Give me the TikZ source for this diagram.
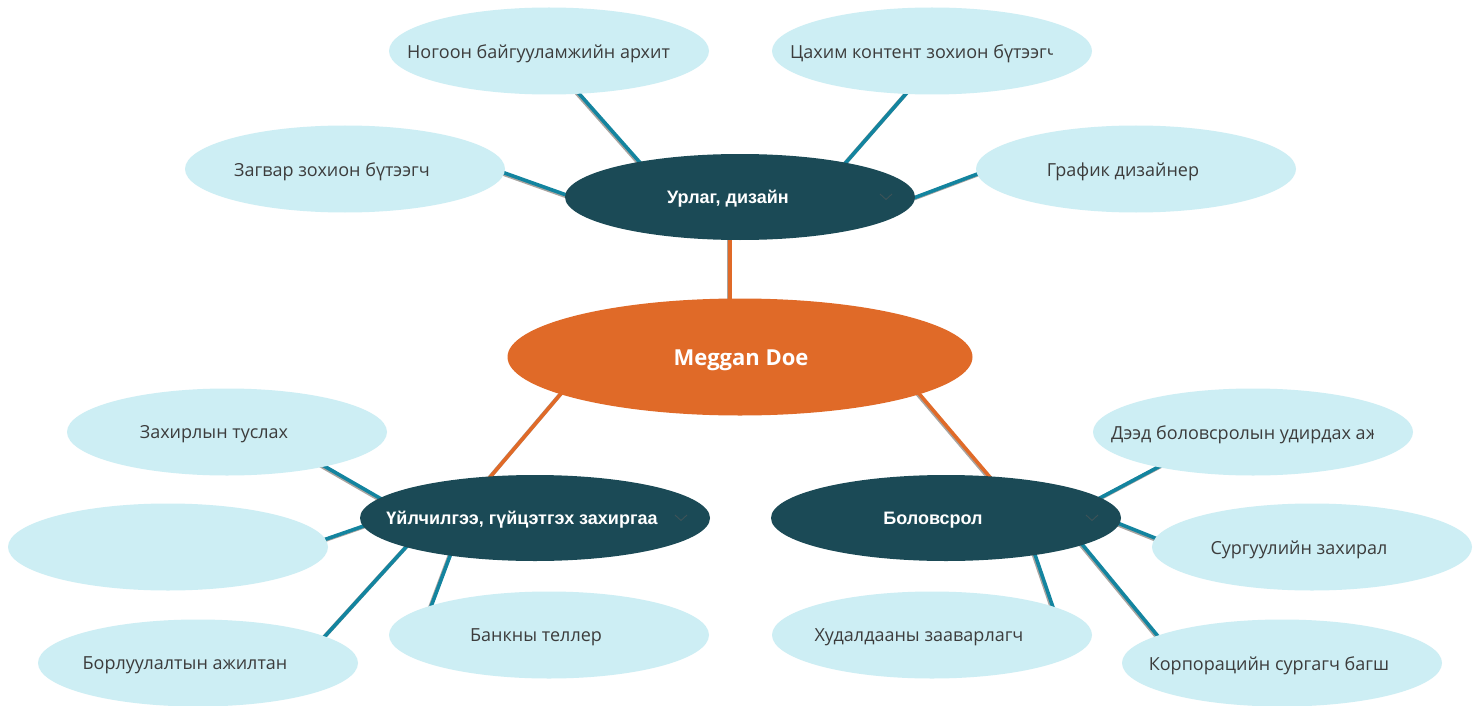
\documentclass[tikz,border=0pt]{standalone}
\usepackage{fontspec}
\setmainfont{Open Sans}
\newfontfamily\hubfont{Liberation Sans}
\usetikzlibrary{shapes.geometric,calc}
\definecolor{leafbg}{HTML}{CDEEF4}
\definecolor{hubbg}{HTML}{1B4A56}
\definecolor{rootbg}{HTML}{E06A28}
\definecolor{linkteal}{HTML}{13849F}
\definecolor{leaftxt}{HTML}{3C3C3C}
\definecolor{shadowgray}{HTML}{A8A4A0}
\definecolor{chevgray}{HTML}{3E5358}
\pgfdeclarelayer{bg}
\pgfsetlayers{bg,main}
\tikzset{
  leafnode/.style={ellipse, fill=leafbg, minimum width=320pt, minimum height=87pt, inner sep=0pt},
  hubnode/.style={ellipse, fill=hubbg, minimum width=350pt, minimum height=86pt, inner sep=0pt},
  rootnode/.style={ellipse, fill=rootbg, minimum width=465pt, minimum height=117pt, inner sep=0pt},
  leaftext/.style={inner sep=0pt, text=leaftxt, font=\fontsize{18}{20}\selectfont, yshift=-2.5pt},
  hubtext/.style={inner sep=0pt, text=white, font=\hubfont\bfseries\fontsize{18}{20}\selectfont, yshift=-2pt},
  roottext/.style={inner sep=0pt, text=white, font=\bfseries\fontsize{22}{24}\selectfont, yshift=-3pt},
  tline/.style={draw=linkteal, line width=3.6pt},
  oline/.style={draw=rootbg, line width=3.6pt},
  sline/.style={draw=shadowgray, line width=4pt},
  chevline/.style={draw=chevgray, line width=0.9pt},
}
\newcommand\conn[5]{%
  \draw[sline] ($(#2)+#3+(-1,1)$) -- ($(#4)+#5+(-1,1)$);
  \draw[#1] ($(#2)+#3$) -- ($(#4)+#5$);}
\begin{document}
\begin{tikzpicture}[x=1pt,y=-1pt]
\useasboundingbox (0,0) rectangle (1480,706);
\begin{pgfonlayer}{bg}
\fill[white] (0,0) rectangle (1480,706);
\end{pgfonlayer}

% root and hubs
\node[rootnode] (root) at (740,357) {};
\node[roottext] (roottx) at (741,357) {Meggan Doe};
\node[hubnode] (art) at (740,197) {};
\node[hubtext] (arttx) at (728,197) {Урлаг, дизайн};
\node[hubnode] (serv) at (535,518) {};
\node[hubtext] (servtx) at (522,518) {Үйлчилгээ, гүйцэтгэх захиргаа};
\node[hubnode] (edu) at (946,518) {};
\node[hubtext] (edutx) at (933,518) {Боловсрол};

% chevrons
\foreach \h in {art,serv,edu}{
  \draw[chevline] ($(\h)+(140,-3)$) -- ($(\h)+(146,2.5)$) -- ($(\h)+(152,-3)$);
}

% leaves
\node[leafnode] (green) at (549,51) {};
\node[leafnode] (digital) at (932,51) {};
\node[leafnode] (model) at (345,169) {};
\node[leafnode] (graphic) at (1136,169) {};
\node[leafnode] (assist) at (227,432) {};
\node[leafnode] (blank) at (168,547) {};
\node[leafnode] (sales) at (198,663) {};
\node[leafnode] (teller) at (549,635) {};
\node[leafnode] (higher) at (1253,432) {};
\node[leafnode] (school) at (1312,547) {};
\node[leafnode] (trade) at (932,635) {};
\node[leafnode] (corp) at (1282,663) {};

% leaf texts (clipped ones)
\begin{scope}
  \clip (407,30) rectangle (669,76);
  \node[leaftext, anchor=west] (greentx) at (407,51) {Ногоон байгууламжийн архитектор};
\end{scope}
\begin{scope}
  \clip (790,30) rectangle (1052,76);
  \node[leaftext, anchor=west] (digitaltx) at (790,51) {Цахим контент зохион бүтээгч};
\end{scope}
\begin{scope}
  \clip (1111,411) rectangle (1373,457);
  \node[leaftext, anchor=west] (highertx) at (1111,432) {Дээд боловсролын удирдах ажилтан};
\end{scope}
\node[leaftext] (modeltx) at ($(model)+(-13,0)$) {Загвар зохион бүтээгч};
\node[leaftext] (graphictx) at ($(graphic)+(-13,0)$) {График дизайнер};
\node[leaftext] (assisttx) at ($(assist)+(-13,0)$) {Захирлын туслах};
\node[leaftext] (salestx) at ($(sales)+(-13,0)$) {Борлуулалтын ажилтан};
\node[leaftext] (tellertx) at ($(teller)+(-13,0)$) {Банкны теллер};
\node[leaftext] (schooltx) at ($(school)+(-13,0)$) {Сургуулийн захирал};
\node[leaftext] (tradetx) at ($(trade)+(-13,0)$) {Худалдааны зааварлагч};
\node[leaftext] (corptx) at ($(corp)+(-13,0)$) {Корпорацийн сургагч багш};

% connectors
\begin{pgfonlayer}{bg}
  % root to hubs
  \conn{oline}{root}{(-10,-50)}{art}{(-10,30)}
  \conn{oline}{root}{(-170,26)}{serv}{(-55,-29)}
  \conn{oline}{root}{(170,26)}{edu}{(54,-29)}
  % art
  \conn{tline}{art}{(-89,-22)}{green}{(18,29)}
  \conn{tline}{art}{(95,-22)}{digital}{(-14,29)}
  \conn{tline}{art}{(-154,5)}{model}{(140,-3)}
  \conn{tline}{art}{(155,8)}{graphic}{(-140,-2)}
  % services
  \conn{tline}{serv}{(-138,-10)}{assist}{(78,23)}
  \conn{tline}{serv}{(-154,2)}{blank}{(141,-2)}
  \conn{tline}{serv}{(-118,17)}{sales}{(119,-18)}
  \conn{tline}{serv}{(-79,22)}{teller}{(-123,-15)}
  % education
  \conn{tline}{edu}{(137,-11)}{higher}{(-74,24)}
  \conn{tline}{edu}{(154,-2)}{school}{(-142,-3)}
  \conn{tline}{edu}{(126,14)}{corp}{(-111,-11)}
  \conn{tline}{edu}{(84,22)}{trade}{(126,-13)}
\end{pgfonlayer}
\end{tikzpicture}
\end{document}
